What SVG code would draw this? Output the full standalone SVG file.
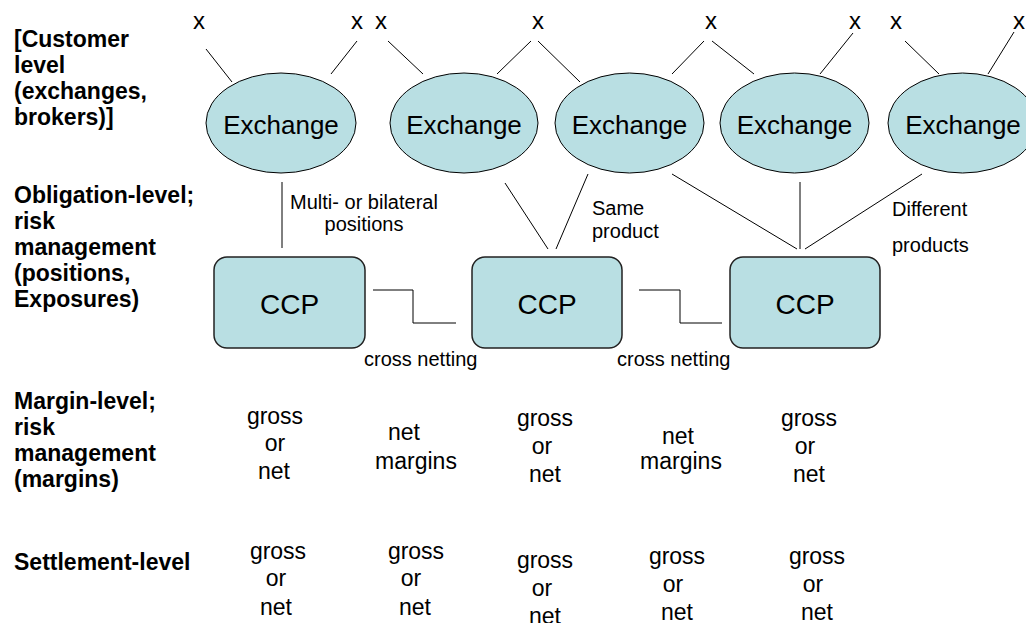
<svg xmlns="http://www.w3.org/2000/svg" width="1026" height="623" viewBox="0 0 1026 623">
<style>
.lbl{font-family:"Liberation Sans",Arial,sans-serif;font-weight:bold;font-size:23px;fill:#000}
.exn{fill:#b9dfe3;stroke:#000;stroke-width:1}
.ccp{fill:#b9dfe3;stroke:#222;stroke-width:1.5}
.big{font-family:"Liberation Sans",Arial,sans-serif;font-size:26px;fill:#000;text-anchor:middle}
.ccpt{font-family:"Liberation Sans",Arial,sans-serif;font-size:28px;fill:#000;text-anchor:middle}
.sm{font-family:"Liberation Sans",Arial,sans-serif;font-size:20px;fill:#000}
.mid{font-family:"Liberation Sans",Arial,sans-serif;font-size:23px;fill:#000;text-anchor:middle}
.x{font-family:"Liberation Sans",Arial,sans-serif;font-size:24px;fill:#000;text-anchor:middle}
.ln{stroke:#000;stroke-width:1;fill:none}
</style>
<rect width="1026" height="623" fill="#fff"/>
<g id="level-labels" class="lbl">
<text x="14" y="47">[Customer</text>
<text x="14" y="73">level</text>
<text x="14" y="99">(exchanges,</text>
<text x="14" y="125">brokers)]</text>
<text x="14" y="203">Obligation-level;</text>
<text x="14" y="229">risk</text>
<text x="14" y="255">management</text>
<text x="14" y="281">(positions,</text>
<text x="14" y="307">Exposures)</text>
<text x="14" y="409">Margin-level;</text>
<text x="14" y="435">risk</text>
<text x="14" y="461">management</text>
<text x="14" y="487">(margins)</text>
<text x="14" y="570">Settlement-level</text>
</g>
<g id="customers" class="x">
<text x="199" y="29">x</text>
<text x="357" y="29">x</text>
<text x="381" y="29">x</text>
<text x="538" y="29">x</text>
<text x="711" y="29">x</text>
<text x="855" y="29">x</text>
<text x="896" y="29">x</text>
<text x="1019" y="29">x</text>
</g>
<g id="connectors" class="ln">
<line x1="206" y1="49" x2="232" y2="82"/>
<line x1="357" y1="41" x2="331" y2="74"/>
<line x1="388" y1="41" x2="423" y2="74"/>
<line x1="531" y1="41" x2="497" y2="74"/>
<line x1="538" y1="41" x2="580" y2="82"/>
<line x1="704" y1="41" x2="672" y2="74"/>
<line x1="712" y1="41" x2="754" y2="74"/>
<line x1="853" y1="33" x2="820" y2="74"/>
<line x1="905" y1="41" x2="939" y2="74"/>
<line x1="1014" y1="32" x2="988" y2="74"/>
<line x1="282" y1="182" x2="282" y2="248"/>
<line x1="505" y1="183" x2="548" y2="249"/>
<line x1="588" y1="174" x2="556" y2="249"/>
<line x1="672" y1="174" x2="797" y2="249"/>
<line x1="800" y1="182" x2="800" y2="249"/>
<line x1="922" y1="174" x2="805" y2="249"/>
<polyline points="373,290 413,290 413,323 456,323"/>
<polyline points="639,290 680,290 680,323 722,323"/>
</g>
<g id="exchange1"><ellipse class="exn" cx="281" cy="123" rx="75" ry="50"/><text class="big" x="281" y="134">Exchange</text></g>
<g id="exchange2"><ellipse class="exn" cx="464" cy="123" rx="74" ry="50"/><text class="big" x="464" y="134">Exchange</text></g>
<g id="exchange3"><ellipse class="exn" cx="629.5" cy="123" rx="74.5" ry="50"/><text class="big" x="629.5" y="134">Exchange</text></g>
<g id="exchange4"><ellipse class="exn" cx="794.5" cy="123" rx="74.5" ry="50"/><text class="big" x="794.5" y="134">Exchange</text></g>
<g id="exchange5"><ellipse class="exn" cx="962.5" cy="123" rx="74.5" ry="50"/><text class="big" x="963" y="134">Exchange</text></g>
<g id="ccp1"><rect class="ccp" x="214" y="257" width="151" height="91" rx="13"/><text class="ccpt" x="289.5" y="314">CCP</text></g>
<g id="ccp2"><rect class="ccp" x="472" y="257" width="150" height="91" rx="13"/><text class="ccpt" x="547" y="314">CCP</text></g>
<g id="ccp3"><rect class="ccp" x="730" y="257" width="150" height="91" rx="13"/><text class="ccpt" x="805" y="314">CCP</text></g>
<g id="edge-labels" class="sm">
<text x="364" y="209" text-anchor="middle">Multi- or bilateral</text>
<text x="364" y="231" text-anchor="middle">positions</text>
<text x="592" y="215">Same</text>
<text x="592" y="238">product</text>
<text x="892" y="216">Different</text>
<text x="892" y="252">products</text>
<text x="364" y="366">cross netting</text>
<text x="617" y="366">cross netting</text>
</g>
<g id="margin-row" class="mid">
<text x="275" y="424">gross</text><text x="275" y="451">or</text><text x="274" y="479">net</text>
<text x="404" y="440">net</text><text x="416" y="469">margins</text>
<text x="545" y="426">gross</text><text x="542" y="454">or</text><text x="545" y="482">net</text>
<text x="678" y="444">net</text><text x="681" y="469">margins</text>
<text x="809" y="426">gross</text><text x="805" y="454">or</text><text x="809" y="482">net</text>
</g>
<g id="settlement-row" class="mid">
<text x="278" y="559">gross</text><text x="276" y="586">or</text><text x="276" y="615">net</text>
<text x="416" y="559">gross</text><text x="411" y="586">or</text><text x="415" y="615">net</text>
<text x="545" y="568">gross</text><text x="542" y="596">or</text><text x="545" y="624">net</text>
<text x="677" y="564">gross</text><text x="673" y="592">or</text><text x="677" y="620">net</text>
<text x="817" y="564">gross</text><text x="813" y="592">or</text><text x="817" y="620">net</text>
</g>
</svg>
